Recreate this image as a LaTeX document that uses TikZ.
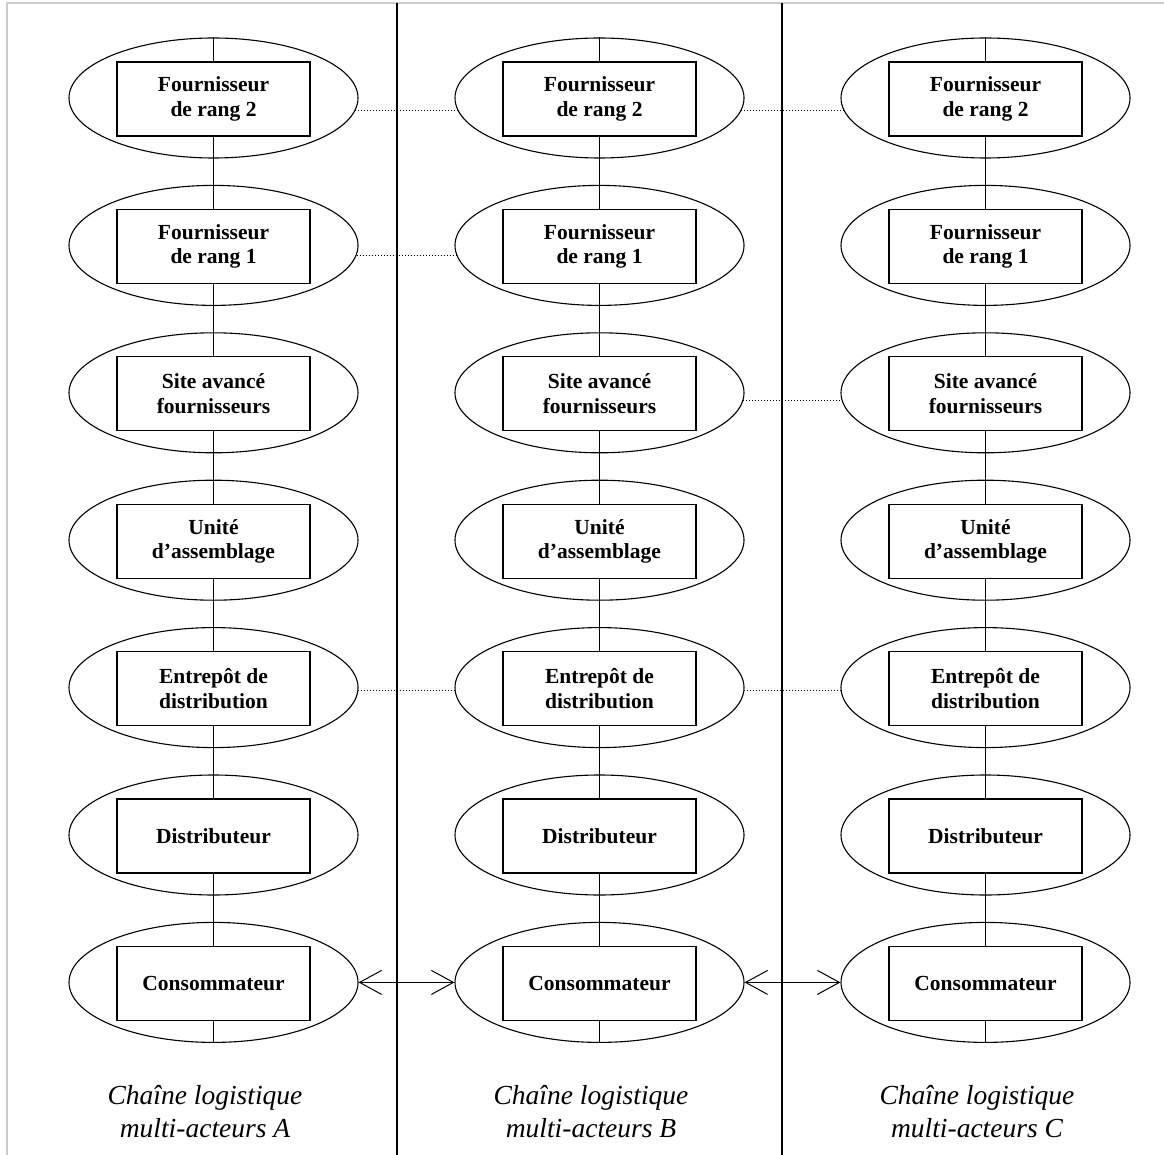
\documentclass[tikz,border=0pt]{standalone}
\usepackage{fontspec}
\setmainfont{Liberation Serif}
\usetikzlibrary{shapes.geometric,arrows.meta}
\begin{document}
\begin{tikzpicture}[x=1pt,y=-1pt,
  ell/.style={ellipse,draw,line width=1.1pt,minimum width=289pt,minimum height=120pt,inner sep=0pt},
  boxn/.style={rectangle,draw,line width=1.2pt,minimum width=193pt,minimum height=74pt,inner sep=0pt,align=center,
    font=\bfseries\fontsize{21.5}{24.5}\selectfont},
  link/.style={line width=1.3pt},
  dots/.style={dotted,line width=1pt},
  dbl/.style={line width=1.2pt,{Straight Barb[length=22pt,width=24pt,line width=1pt]}-{Straight Barb[length=22pt,width=24pt,line width=1pt]}},
  sep/.style={line width=1.2pt},
  lab/.style={align=center,inner sep=0pt,font=\itshape\fontsize{27.5}{33}\selectfont},
  frame/.style={draw=black!20,line width=1.5pt}]
\useasboundingbox (0,0) rectangle (1164,1155);
\fill[white] (0,0) rectangle (1164,1155);
% frame
\coordinate (fBL) at (7,1155);
\coordinate (fTL) at (7,3);
\coordinate (fTR) at (1164,3);
\draw[frame] (fBL) -- (fTL) -- (fTR);
% separators
\coordinate (s1t) at (397,3);
\coordinate (s1b) at (397,1155);
\coordinate (s2t) at (782,3);
\coordinate (s2b) at (782,1155);
\draw[sep] (s1t) -- (s1b);
\draw[sep] (s2t) -- (s2b);
% columns
\foreach \c/\x in {A/213.5,B/599.5,C/985.5} {
  \foreach \t [count=\i] in {{Fournisseur\\de rang 2},{Fournisseur\\de rang 1},{Site avancé\\fournisseurs},{Unité\\d’assemblage},{Entrepôt de\\distribution},{Distributeur},{Consommateur}} {
    \node[ell] (e\c\i) at (\x,{98+147.4*(\i-1)}) {};
    \node[boxn] (r\c\i) at (\x,{99+147.4*(\i-1)}) {\t};
  }
  \draw[link] (e\c1.north) -- (r\c1.north);
  \foreach \i [evaluate=\i as \j using int(\i+1)] in {1,...,6} {
    \draw[link] (r\c\i.south) -- (r\c\j.north);
  }
  \draw[link] (r\c7.south) -- (e\c7.south);
}
% dotted links
\draw[dots] (eA1.-5.7) -- (eB1.185.7);
\draw[dots] (eB1.-5.7) -- (eC1.185.7);
\draw[dots] (eA2.-4.7) -- (eB2.184.7);
\draw[dots] (eB3.-3.7) -- (eC3.183.7);
\draw[dots] (eA5.-1.2) -- (eB5.181.2);
\draw[dots] (eB5.-1.2) -- (eC5.181.2);
% arrows
\draw[dbl] (eA7.east) -- (eB7.west);
\draw[dbl] (eB7.east) -- (eC7.west);
% labels
\node[lab] (lA) at (205,1112) {Chaîne logistique\\multi-acteurs A};
\node[lab] (lB) at (591,1112) {Chaîne logistique\\multi-acteurs B};
\node[lab] (lC) at (977,1112) {Chaîne logistique\\multi-acteurs C};
\end{tikzpicture}
\end{document}
